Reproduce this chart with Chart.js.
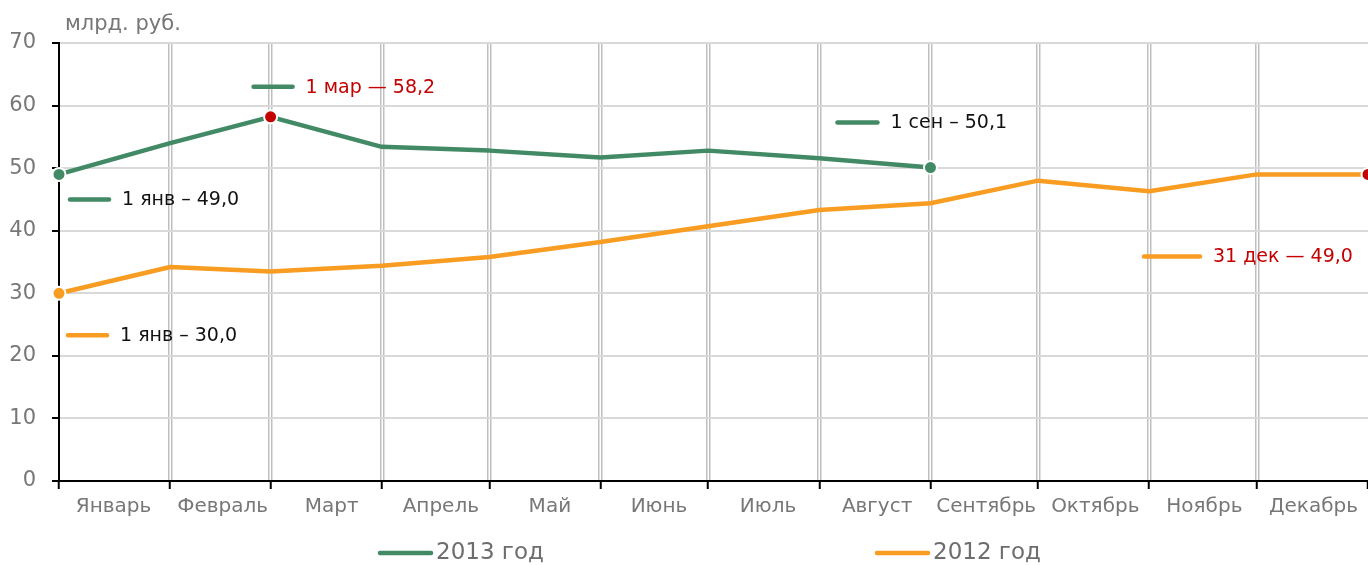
<!DOCTYPE html>
<html>
<head>
<meta charset="utf-8">
<script src="https://cdn.jsdelivr.net/npm/chart.js@4"></script>
<style>
  html, body { margin: 0; padding: 0; background: #fff; overflow: hidden; }
  canvas { display: block; }
</style>
</head>
<body>
<canvas id="canvas-id-1" width="1368" height="565"></canvas>
<script>
// months and their lengths (days), x axis is day of year
const MONTHS = ['Январь', 'Февраль', 'Март', 'Апрель', 'Май', 'Июнь',
    'Июль', 'Август', 'Сентябрь', 'Октябрь', 'Ноябрь', 'Декабрь']
const MONTH_DAYS = [31, 28, 31, 30, 31, 30, 31, 31, 30, 31, 30, 31]

// values on the 1st of each month, млрд. руб.
const VALUES_2013 = [49.0, 54.0, 58.2, 53.4, 52.8, 51.7, 52.8, 51.6, 50.1]
// 2012: 1st of each month, last one is 31 dec
const VALUES_2012 = [30.0, 34.2, 33.5, 34.4, 35.8, 38.2, 40.7, 43.3, 44.4, 48.0, 46.3, 49.0, 49.0]

const Y_TICKS = [0, 10, 20, 30, 40, 50, 60, 70]

// marked points: series, point index, text, red or not
const NOTE_SERIES = [0, 0, 0, 1, 1]
const NOTE_INDEX = [0, 2, 8, 0, 12]
const NOTE_TEXT = ['1 янв – 49,0', '1 мар — 58,2', '1 сен – 50,1', '1 янв – 30,0', '31 дек — 49,0']
const NOTE_RED = [false, true, false, false, true]

const GREEN = '#428a66'
const ORANGE = '#f89c22'
const RED = '#c40000'
const FONT = '"DejaVu Sans", Verdana, sans-serif'


function monthStarts() {
    let starts = [0]
    MONTH_DAYS.forEach(d => starts.push(starts[starts.length - 1] + d))
    return starts   // 13 values, last = 365
}

function toPoints(values) {
    const starts = monthStarts()
    return values.map((v, i) => ({ x: starts[i], y: v }))
}

function isNote(series, index) {
    for (let i = 0; i < NOTE_SERIES.length; i++) {
        if (NOTE_SERIES[i] === series && NOTE_INDEX[i] === index) return i
    }
    return -1
}

function pointColor(series, base) {
    return (ctx) => {
        const n = isNote(series, ctx.dataIndex)
        return (n >= 0 && NOTE_RED[n]) ? RED : base
    }
}

function pointRadius(series) {
    return (ctx) => isNote(series, ctx.dataIndex) >= 0 ? 6.5 : 0
}


// labels near the marked points
const notesPlugin = {
    id: 'notes',
    afterDatasetsDraw(chart) {
        // dx, dy from point to start of the short line, line length
        const offs = [[9, 25, 43], [-19, -30, 43], [-95, -45, 44], [7, 42, 43], [-226, 82, 60]]
        const ctx = chart.ctx
        ctx.save()
        ctx.font = '19px ' + FONT
        ctx.textBaseline = 'middle'
        ctx.lineCap = 'round'
        ctx.lineWidth = 4.5
        NOTE_TEXT.forEach((txt, i) => {
            const ds = NOTE_SERIES[i]
            const pt = chart.getDatasetMeta(ds).data[NOTE_INDEX[i]]
            const [dx, dy, len] = offs[i]
            const x0 = pt.x + dx
            const y0 = pt.y + dy
            ctx.strokeStyle = chart.data.datasets[ds].borderColor
            ctx.beginPath()
            ctx.moveTo(x0 + 2, y0)
            ctx.lineTo(x0 + len - 2, y0)
            ctx.stroke()
            ctx.fillStyle = NOTE_RED[i] ? RED : '#111'
            ctx.fillText(txt, x0 + len + 11, y0 + 1)
        })
        ctx.restore()
    }
}

// units over the y axis and the wide legend at the bottom
const framePlugin = {
    id: 'frame',
    afterDraw(chart) {
        const ctx = chart.ctx
        const area = chart.chartArea
        ctx.save()
        ctx.fillStyle = '#777'
        ctx.font = '21px ' + FONT
        ctx.textBaseline = 'alphabetic'
        ctx.fillText('млрд. руб.', area.left + 6, 30)

        const xs = [378, 875]
        ctx.font = '23px ' + FONT
        ctx.textBaseline = 'middle'
        ctx.lineCap = 'round'
        ctx.lineWidth = 4.5
        chart.data.datasets.forEach((ds, i) => {
            ctx.strokeStyle = ds.borderColor
            ctx.beginPath()
            ctx.moveTo(xs[i] + 2, 553)
            ctx.lineTo(xs[i] + 53, 553)
            ctx.stroke()
            ctx.fillStyle = '#6d6d6d'
            ctx.fillText(ds.label, xs[i] + 58, 553)
        })
        ctx.restore()
    }
}


function drawChart() {
    const starts = monthStarts()

    new Chart(document.getElementById('canvas-id-1'), {
        type: 'line',
        data: {
            datasets: [
                {
                    label: '2013 год',
                    data: toPoints(VALUES_2013),
                    borderColor: GREEN,
                    borderWidth: 4.5,
                    borderJoinStyle: 'round',
                    pointRadius: pointRadius(0),
                    pointBackgroundColor: pointColor(0, GREEN),
                    pointBorderColor: '#fff',
                    pointBorderWidth: 2,
                    clip: false,
                    order: 1
                },
                {
                    label: '2012 год',
                    data: toPoints(VALUES_2012),
                    borderColor: ORANGE,
                    borderWidth: 4.5,
                    borderJoinStyle: 'round',
                    pointRadius: pointRadius(1),
                    pointBackgroundColor: pointColor(1, ORANGE),
                    pointBorderColor: '#fff',
                    pointBorderWidth: 2,
                    clip: false,
                    order: 2
                }
            ]
        },
        options: {
            responsive: false,
            animation: false,
            events: [],
            layout: { autoPadding: false, padding: { top: 43, right: 0, bottom: 40, left: 0 } },
            plugins: {
                legend: { display: false },
                tooltip: { enabled: false }
            },
            scales: {
                x: {
                    type: 'linear',
                    position: 'bottom',
                    min: 0,
                    max: starts[starts.length - 1],
                    afterBuildTicks: (scale) => {
                        let ticks = []
                        starts.forEach((d, i) => {
                            ticks.push({ value: d })
                            if (i > 0 && i < starts.length - 1) {
                                // vertical grid is a pair of thin lines
                                ticks.push({ value: d - 0.42 })
                                ticks.push({ value: d + 0.42 })
                            }
                        })
                        scale.ticks = ticks.sort((a, b) => a.value - b.value)
                    },
                    afterFit: (scale) => { scale.height = 8 },
                    ticks: { display: false, autoSkip: false },
                    grid: {
                        color: (ctx) => Number.isInteger(ctx.tick.value) ? 'rgba(0,0,0,0)' : '#bfbfbf',
                        tickColor: (ctx) => Number.isInteger(ctx.tick.value) ? '#000' : 'rgba(0,0,0,0)',
                        lineWidth: 1.5,
                        tickWidth: 2,
                        tickLength: 8
                    },
                    border: { color: '#000', width: 2 }
                },
                months: {
                    type: 'category',
                    position: 'bottom',
                    labels: MONTHS,
                    offset: true,
                    afterFit: (scale) => { scale.height = 36 },
                    grid: { display: false, drawTicks: false },
                    border: { display: false },
                    ticks: {
                        color: '#777',
                        font: { family: FONT, size: 20 },
                        padding: 6,
                        maxRotation: 0,
                        autoSkip: false
                    }
                },
                y: {
                    min: Y_TICKS[0],
                    max: Y_TICKS[Y_TICKS.length - 1],
                    afterBuildTicks: (scale) => {
                        scale.ticks = Y_TICKS.map(v => ({ value: v }))
                    },
                    afterFit: (scale) => { scale.width = 59 },
                    ticks: {
                        color: '#777',
                        font: { family: FONT, size: 21 },
                        padding: 16
                    },
                    grid: {
                        color: '#d9d9d9',
                        lineWidth: 2,
                        tickColor: '#000',
                        tickWidth: 2,
                        tickLength: 7
                    },
                    border: { color: '#000', width: 2 }
                }
            }
        },
        plugins: [notesPlugin, framePlugin]
    })
}

window.onload = () => { drawChart() }
</script>
</body>
</html>
